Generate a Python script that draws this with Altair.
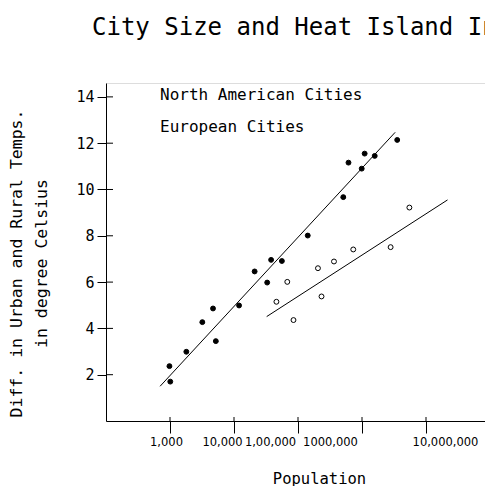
import altair as alt
import pandas as pd

# ---- data ----
na_pop = [980, 1010, 1800, 3200, 4700, 5200, 12000, 21000, 33000, 38000, 56000,
          142000, 510000, 615000, 990000, 1100000, 1580000, 3550000]
na_temp = [2.37, 1.70, 2.99, 4.27, 4.86, 3.45, 4.99, 6.46, 5.98, 6.96, 6.91,
           8.01, 9.67, 11.16, 10.9, 11.55, 11.45, 12.14]

eu_pop = [46000, 68000, 85000, 205000, 233000, 365000, 730000, 2800000, 5500000]
eu_temp = [5.15, 6.01, 4.36, 6.60, 5.38, 6.89, 7.41, 7.51, 9.22]

# fitted line end points
na_line_pop = [700, 3300000]
na_line_temp = [1.5, 12.47]
eu_line_pop = [32400, 21700000]
eu_line_temp = [4.51, 9.55]

groups = ["North American Cities", "European Cities"]
x_tick_values = [1000, 10000, 100000, 1000000, 10000000]
x_tick_labels = ["1,000", "10,000", "1,00,000", "1000,000", "10,000,000"]
x_label_shift = [-4, -12, -28, -32, 19]
y_tick_values = [2, 4, 6, 8, 10, 12, 14]

FONT = "DejaVu Sans Mono"
LFONT = "DejaVu Sans"
W, H = 379, 338

pts = pd.DataFrame(
    {"pop": na_pop + eu_pop,
     "temp": na_temp + eu_temp,
     "group": [groups[0]] * len(na_pop) + [groups[1]] * len(eu_pop)}
)
lines = pd.DataFrame(
    {"pop": na_line_pop + eu_line_pop,
     "temp": na_line_temp + eu_line_temp,
     "group": [groups[0]] * 2 + [groups[1]] * 2}
)

label_map = "{" + ",".join(f"'{v}':'{l}'" for v, l in zip(x_tick_values, x_tick_labels)) + "}"
offset_cond = {
    "condition": [{"test": f"datum.value == {v}", "value": s}
                  for v, s in zip(x_tick_values, x_label_shift)],
    "value": 0,
}

xscale = alt.Scale(type="log", domain=[100, 10 ** (2 + W / 64)], nice=False)
yscale = alt.Scale(domain=[0, 14.6], nice=False, zero=False)

xaxis = alt.Axis(values=x_tick_values, labelExpr=f"{label_map}[''+datum.value]",
                 grid=False, tickSize=12, tickColor="black", domainColor="black",
                 labelFont=LFONT, labelFontSize=11.5, labelColor="black", labelPadding=3,
                 labelOffset=offset_cond,
                 labelFlush=False, labelOverlap=False,
                 title="Population", titleFont=FONT, titleFontSize=15.5,
                 titleFontWeight="normal", titleColor="black",
                 titleX=213, titleY=62, titleBaseline="alphabetic")
yaxis = alt.Axis(values=y_tick_values, grid=False, tickSize=9, tickColor="black",
                 domainColor="black", labelFont=FONT, labelFontSize=15,
                 labelColor="black", labelPadding=3,
                 title=["Diff. in Urban and Rural Temps.", "in degree Celsius"],
                 titleFont=FONT, titleFontSize=16.5, titleFontWeight="normal",
                 titleColor="black", titleLineHeight=25, titleAngle=-90,
                 titleBaseline="middle", titleAlign="center",
                 titleX=-89.5, titleY=180)

fill_scale = alt.Scale(domain=groups, range=["black", "white"])

points = alt.Chart(pts).mark_circle(size=24, stroke="black", strokeWidth=1, opacity=1).encode(
    x=alt.X("pop:Q", scale=xscale, axis=xaxis),
    y=alt.Y("temp:Q", scale=yscale, axis=yaxis),
    fill=alt.Fill("group:N", scale=fill_scale, sort=groups,
                  legend=alt.Legend(title=None, orient="none", legendX=38, legendY=4,
                                    labelFont=FONT, labelFontSize=16, labelColor="black",
                                    labelLimit=0,
                                    symbolOpacity=0, symbolSize=1, symbolStrokeWidth=0,
                                    labelOffset=0, rowPadding=16, padding=0)),
)

fit = alt.Chart(lines).mark_line(color="black", strokeWidth=1).encode(
    x=alt.X("pop:Q", scale=xscale),
    y=alt.Y("temp:Q", scale=yscale),
    detail="group:N",
)

ytick_df = pd.DataFrame({"v": y_tick_values})
yin = alt.Chart(ytick_df).mark_rule(color="black", strokeWidth=1).encode(
    y=alt.Y("v:Q", scale=yscale), x=alt.value(0), x2=alt.value(7))

xtick_df = pd.DataFrame({"v": x_tick_values})
xin = alt.Chart(xtick_df).mark_rule(color="black", strokeWidth=1).encode(
    x=alt.X("v:Q", scale=xscale), y=alt.value(H - 4), y2=alt.value(H))

chart = alt.layer(points, fit, yin, xin).properties(
    width=W, height=H,
    title=alt.TitleParams("City Size and Heat Island Intensity", anchor="start",
                          frame="group",
                          font=FONT, fontSize=24, fontWeight="normal", color="black",
                          dx=-14, offset=24, baseline="alphabetic"),
    autosize=alt.AutoSizeParams(type="none"),
    padding={"left": 98, "top": 75, "right": 0, "bottom": 70},
).configure_view(stroke=None).configure(background="white")

chart.save("out.html", embed_options={"renderer": "svg", "actions": False})
